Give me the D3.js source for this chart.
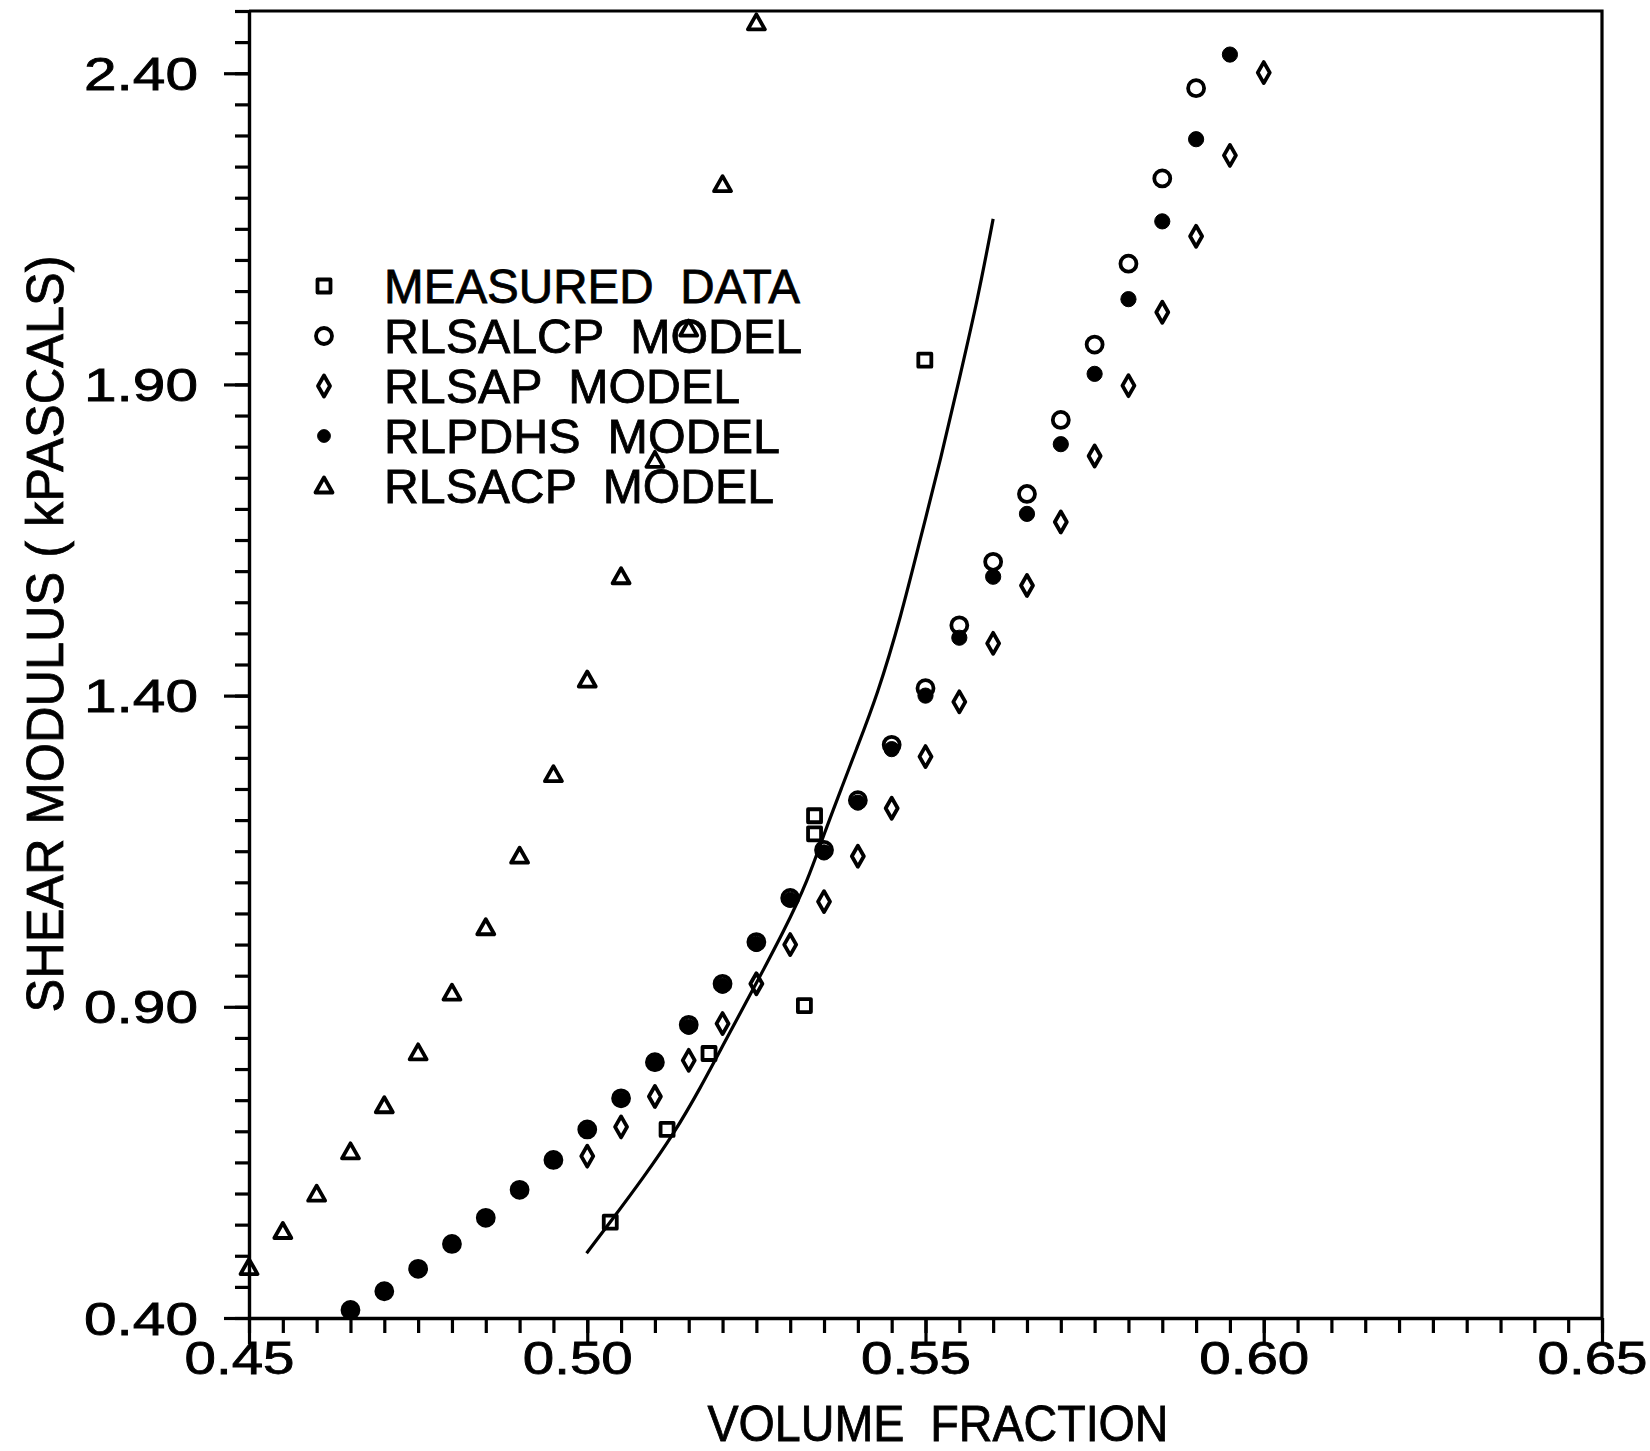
<!DOCTYPE html>
<html>
<head>
<meta charset="utf-8">
<script src="https://cdn.jsdelivr.net/npm/d3@7"></script>
<style>
  body { margin: 0; background: #fff; }
  text { font-family: "Liberation Sans", Arial, sans-serif; fill: #000; white-space: pre; }
</style>
</head>
<body>
<div id="chart"></div>
<script>
// ---- data ----
const xMajorTicks = [0.45, 0.50, 0.55, 0.60, 0.65];
const yMajorTicks = [0.40, 0.90, 1.40, 1.90, 2.40];

// measured data (squares)
const measuredX = [0.5034, 0.5118, 0.5180, 0.5321, 0.5336, 0.5336, 0.5499];
const measuredY = [0.554, 0.703, 0.825, 0.902, 1.207, 1.178, 1.939];

// RLSALCP model (open circles)
const rlsalcpX = [0.465, 0.47, 0.475, 0.48, 0.485, 0.49, 0.495, 0.50, 0.505, 0.51, 0.515, 0.52,
  0.525, 0.53, 0.535, 0.54, 0.545, 0.55, 0.555, 0.56, 0.565, 0.57, 0.575, 0.58, 0.585, 0.59];
const rlsalcpY = [0.413, 0.443, 0.479, 0.519, 0.561, 0.606, 0.654, 0.703, 0.753, 0.811, 0.871, 0.937,
  1.004, 1.075, 1.152, 1.232, 1.321, 1.412, 1.513, 1.615, 1.724, 1.843, 1.964, 2.094, 2.231, 2.376];

// RLSAP model (diamonds)
const rlsapX = [0.50, 0.505, 0.51, 0.515, 0.52, 0.525, 0.53, 0.535, 0.54, 0.545, 0.55,
  0.555, 0.56, 0.565, 0.57, 0.575, 0.58, 0.585, 0.59, 0.595, 0.60];
const rlsapY = [0.660, 0.707, 0.756, 0.814, 0.873, 0.937, 1.000, 1.069, 1.142, 1.219, 1.302,
  1.390, 1.484, 1.577, 1.679, 1.785, 1.898, 2.016, 2.138, 2.268, 2.401];

// RLPDHS model (filled circles)
const rlpdhsX = [0.465, 0.47, 0.475, 0.48, 0.485, 0.49, 0.495, 0.50, 0.505, 0.51, 0.515, 0.52,
  0.525, 0.53, 0.535, 0.54, 0.545, 0.55, 0.555, 0.56, 0.565, 0.57, 0.575, 0.58, 0.585, 0.59, 0.595];
const rlpdhsY = [0.412, 0.442, 0.478, 0.518, 0.560, 0.604, 0.652, 0.701, 0.751, 0.809, 0.868, 0.934,
  1.001, 1.072, 1.148, 1.228, 1.314, 1.400, 1.493, 1.591, 1.692, 1.804, 1.917, 2.037, 2.162, 2.294, 2.430];

// RLSACP model (triangles)
const rlsacpX = [0.45, 0.455, 0.46, 0.465, 0.47, 0.475, 0.48, 0.485, 0.49, 0.495, 0.50,
  0.505, 0.51, 0.515, 0.52, 0.525];
const rlsacpY = [0.481, 0.539, 0.599, 0.667, 0.741, 0.826, 0.922, 1.027, 1.142, 1.273, 1.425,
  1.591, 1.778, 1.989, 2.221, 2.481];

// fitted curve through the measured data
const fitX = [0.4999, 0.5034, 0.5084, 0.5128, 0.5168, 0.5202, 0.5247, 0.5291, 0.5326, 0.5350,
  0.5380, 0.5395, 0.5429, 0.5464, 0.5493, 0.5523, 0.5550, 0.5577, 0.5600];
const fitY = [0.504, 0.554, 0.627, 0.696, 0.771, 0.841, 0.932, 1.022, 1.103, 1.178,
  1.263, 1.306, 1.401, 1.528, 1.655, 1.782, 1.909, 2.036, 2.166];

const legendLabels = ["MEASURED  DATA", "RLSALCP  MODEL", "RLSAP  MODEL", "RLPDHS  MODEL", "RLSACP  MODEL"];
const legendWidths = [416, 418, 356, 396, 390];

// ---- layout ----
const width = 1650, height = 1451;
const svg = d3.select("#chart").append("svg")
  .attr("width", width)
  .attr("height", height);

const x = d3.scaleLinear().domain([0.45, 0.65]).range([249, 1602]);
const y = d3.scaleLinear().domain([0.40, 2.50]).range([1318, 11]);

const zip = (xs, ys) => xs.map((v, i) => [v, ys[i]]);

// frame (top + right)
svg.append("path")
  .attr("d", `M${x(0.45)},${y(2.5)}H${x(0.65)}V${y(0.4)}`)
  .attr("fill", "none")
  .attr("stroke", "#000")
  .attr("stroke-width", 3.2);

// minor ticks
const xMinor = d3.range(0, 41).map(i => 0.45 + i * 0.005);
const yMinor = d3.range(0, 43).map(i => 0.40 + i * 0.05);

svg.append("g")
  .attr("transform", `translate(0,${y(0.4)})`)
  .call(d3.axisBottom(x).tickValues(xMinor).tickSize(15).tickFormat(""))
  .call(g => g.select(".domain").remove());

svg.append("g")
  .attr("transform", `translate(${x(0.45)},0)`)
  .call(d3.axisLeft(y).tickValues(yMinor).tickSize(14).tickFormat(""))
  .call(g => g.select(".domain").remove());

// major ticks + labels
const xAxis = svg.append("g")
  .attr("transform", `translate(0,${y(0.4)})`)
  .call(d3.axisBottom(x).tickValues(xMajorTicks).tickSize(26).tickSizeOuter(0).tickPadding(0)
    .tickFormat(d3.format(".2f")));

const yAxis = svg.append("g")
  .attr("transform", `translate(${x(0.45)},0)`)
  .call(d3.axisLeft(y).tickValues(yMajorTicks).tickSize(25).tickSizeOuter(0).tickPadding(26)
    .tickFormat(d3.format(".2f")));

svg.selectAll(".tick line").attr("stroke", "#000").attr("stroke-width", 3.2);
svg.selectAll(".domain").attr("stroke", "#000").attr("stroke-width", 3.4);

xAxis.selectAll("text")
  .attr("y", 56)
  .attr("dy", 0)
  .attr("dx", -10)
  .attr("textLength", 110)
  .attr("lengthAdjust", "spacingAndGlyphs")
  .style("font-size", "46px")
  .attr("fill", "#000").attr("stroke", "#000").attr("stroke-width", 0.8);

yAxis.selectAll("text")
  .attr("dy", "0.35em")
  .attr("textLength", 114)
  .attr("lengthAdjust", "spacingAndGlyphs")
  .style("font-size", "46px")
  .attr("fill", "#000").attr("stroke", "#000").attr("stroke-width", 0.8);

// axis titles
svg.append("text")
  .attr("x", 938)
  .attr("y", 1441)
  .attr("text-anchor", "middle")
  .attr("textLength", 461)
  .attr("lengthAdjust", "spacingAndGlyphs")
  .style("font-size", "50px")
  .attr("stroke", "#000").attr("stroke-width", 0.8)
  .text("VOLUME  FRACTION");

svg.append("text")
  .attr("transform", `translate(63,634) rotate(-90)`)
  .attr("text-anchor", "middle")
  .attr("textLength", 757)
  .attr("lengthAdjust", "spacingAndGlyphs")
  .style("font-size", "51px")
  .attr("stroke", "#000").attr("stroke-width", 0.8)
  .text("SHEAR MODULUS ( kPASCALS)");

// ---- marker shapes ----
const shapes = {
  square: "M-6.5,-6.5H6.5V6.5H-6.5Z",
  circle: d3.symbol(d3.symbolCircle, Math.PI * 8 * 8)(),
  dot: d3.symbol(d3.symbolCircle, Math.PI * 7.6 * 7.6)(),
  diamond: "M0,-10.5L6,0L0,10.5L-6,0Z",
  triangle: "M0,-8.5L8.5,6.5H-8.5Z"
};

function drawPoints(data, shape, filled) {
  svg.append("g")
    .selectAll("path")
    .data(data)
    .join("path")
    .attr("transform", d => `translate(${x(d[0])},${y(d[1])})`)
    .attr("d", shapes[shape])
    .attr("fill", filled ? "#000" : "none")
    .attr("stroke", "#000")
    .attr("stroke-width", filled ? 1 : 3.8)
    .attr("stroke-linejoin", "round");
}

drawPoints(zip(rlsacpX, rlsacpY), "triangle", false);
drawPoints(zip(rlsapX, rlsapY), "diamond", false);
drawPoints(zip(rlsalcpX, rlsalcpY), "circle", false);
drawPoints(zip(rlpdhsX, rlpdhsY), "dot", true);
drawPoints(zip(measuredX, measuredY), "square", false);

// fitted curve
const line = d3.line()
  .x(d => x(d[0]))
  .y(d => y(d[1]))
  .curve(d3.curveBasis);

svg.append("path")
  .datum(zip(fitX, fitY))
  .attr("d", line)
  .attr("fill", "none")
  .attr("stroke", "#000")
  .attr("stroke-width", 3.2);

// ---- legend ----
const legendShapes = ["square", "circle", "diamond", "dot", "triangle"];
const legendFilled = [false, false, false, true, false];

const legend = svg.append("g");
legendLabels.forEach((label, i) => {
  const row = legend.append("g").attr("transform", `translate(324,${286 + i * 50})`);
  row.append("path")
    .attr("d", shapes[legendShapes[i]])
    .attr("transform", legendFilled[i] ? "scale(0.85)" : null)
    .attr("fill", legendFilled[i] ? "#000" : "none")
    .attr("stroke", "#000")
    .attr("stroke-width", legendFilled[i] ? 1 : 3.8)
    .attr("stroke-linejoin", "round");
  row.append("text")
    .attr("x", 60)
    .attr("y", 17)
    .attr("textLength", legendWidths[i])
    .attr("lengthAdjust", "spacingAndGlyphs")
    .style("font-size", "48px")
    .attr("stroke", "#000").attr("stroke-width", 0.8)
    .text(label);
});
</script>
</body>
</html>
